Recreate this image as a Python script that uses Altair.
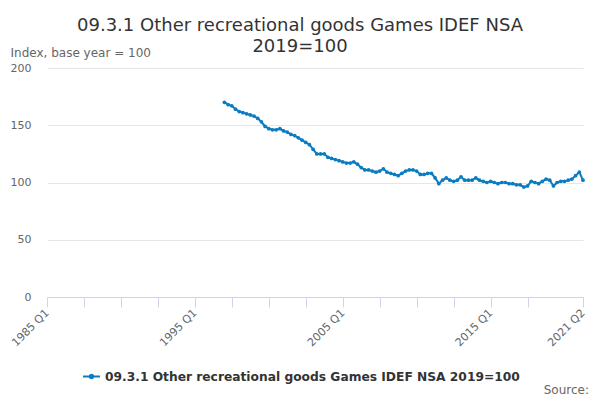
import pandas as pd
import altair as alt

# quarters counted from 1985 Q1 (= 0); series runs 1997 Q1 .. 2021 Q2
start_q = 48
values = [
    170, 168, 167, 164, 162, 161, 160, 159, 158, 156,
    153, 149, 147, 146, 146, 147, 145, 144, 142, 141,
    139, 137, 135, 133, 129, 125, 125, 125, 122, 121,
    120, 119, 118, 117, 117, 118, 116, 113, 111, 111,
    110, 109, 110, 112, 109, 108, 107, 106, 108, 110,
    111, 111, 110, 107, 107, 108, 108, 104, 99, 102,
    104, 102, 101, 102, 105, 102, 102, 102, 104, 102,
    101, 100, 101, 100, 99,
    100, 100, 99, 99, 98, 98, 96, 97, 101, 100,
    99, 101, 103, 102, 97,
    100, 101, 101, 102, 103, 106, 109, 102,
]
series_name = "09.3.1 Other recreational goods Games IDEF NSA 2019=100"
x_ticks = [0, 10, 20, 30, 40, 50, 60, 70, 80, 90, 100, 110, 120, 130, 145]
y_ticks = [0, 50, 100, 150, 200]

df = pd.DataFrame({
    "q": list(range(start_q, start_q + len(values))),
    "v": values,
    "series": series_name,
})

blue = "#0a7cc2"
label_expr = ("datum.value % 40 == 0 || datum.value == 145 ? "
              "(1985 + floor(datum.value / 4)) + ' Q' + (datum.value % 4 + 1) : ''")

base = alt.Chart(df).encode(
    x=alt.X("q:Q", scale=alt.Scale(domain=[0, 145], nice=False, zero=False),
            axis=alt.Axis(values=x_ticks, labelExpr=label_expr, title=None,
                          labelAngle=-45, labelAlign="right", labelBaseline="middle",
                          labelPadding=4, grid=False, domainColor="#ccd6eb",
                          tickColor="#ccd6eb", tickSize=10, labelFontSize=11,
                          labelColor="#666666", labelOverlap=False)),
    y=alt.Y("v:Q", scale=alt.Scale(domain=[0, 200], nice=False),
            axis=alt.Axis(values=y_ticks, title="Index, base year = 100",
                          titleAngle=0, titleAlign="left", titleBaseline="alphabetic",
                          titleX=-37, titleY=-12, titleFontSize=12,
                          titleFontWeight="normal", titleColor="#666666",
                          domain=False, ticks=False, labelPadding=16,
                          labelFontSize=11, labelColor="#666666",
                          gridColor="#e6e6e6")),
    color=alt.Color("series:N", scale=alt.Scale(range=[blue]),
                    legend=alt.Legend(orient="none", legendX=35, legendY=299,
                                      title=None, labelFontSize=12.25, labelLimit=0,
                                      labelFontWeight="bold", labelColor="#333333",
                                      labelOffset=4,
                                      symbolType="M-1,0H1M-0.2,0a0.2,0.2 0 1,0 0.4,0a0.2,0.2 0 1,0 -0.4,0",
                                      symbolSize=289, symbolStrokeWidth=2,
                                      symbolFillColor=blue, symbolStrokeColor=blue)),
)

line = base.mark_line(strokeWidth=2)
dots = base.mark_circle(size=14, opacity=1)

source = alt.Chart(pd.DataFrame({"t": ["Source:"]})).mark_text(
    align="right", baseline="alphabetic", fontSize=12, color="#666666"
).encode(x=alt.value(542), y=alt.value(326), text="t:N")

chart = alt.layer(line, dots, source).properties(
    width=536, height=229,
    autosize=alt.AutoSizeParams(type="none"),
    padding={"left": 39, "top": 60, "right": 9, "bottom": 103},
    title=alt.TitleParams(
        ["09.3.1 Other recreational goods Games IDEF NSA", "2019=100"],
        fontSize=18, fontWeight="normal", color="#333333", anchor="middle",
        dx=-15, offset=-10, lineHeight=21,
    ),
).configure(font="DejaVu Sans").configure_view(stroke=None)

chart.save("out.html", embed_options={"renderer": "svg", "actions": False})
